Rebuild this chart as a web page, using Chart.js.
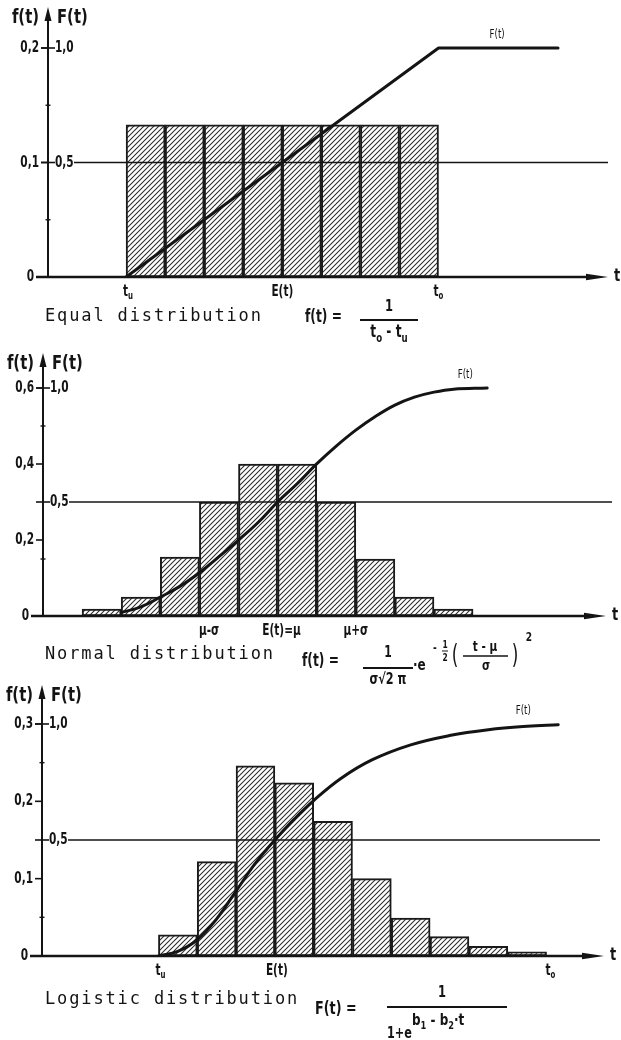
<!DOCTYPE html>
<html><head><meta charset="utf-8">
<script src="https://cdn.jsdelivr.net/npm/chart.js@4.4.1/dist/chart.umd.min.js"></script>
<style>
html,body{margin:0;padding:0;background:#fff;width:621px;height:1040px;overflow:hidden;}
canvas{position:absolute;left:0;}
</style></head><body>
<canvas id="c1" width="621" height="345" style="top:0px"></canvas>
<canvas id="c2" width="621" height="350" style="top:340px"></canvas>
<canvas id="c3" width="621" height="370" style="top:670px"></canvas>
<script>
// ================= DATA =================
// Equal (uniform) distribution
const equalBinCenters = [0.5, 1.5, 2.5, 3.5, 4.5, 5.5, 6.5, 7.5];
const equalDensity    = [0.133, 0.133, 0.133, 0.133, 0.133, 0.133, 0.133, 0.133];
const equalCdfT       = [0, 8, 11.06];
const equalCdfF       = [0, 1.0, 1.0];
const equalFTicks     = [0.1, 0.2];
const equalFTickLabels = ['0,1', '0,2'];
const equalMinorTicks = [0.05, 0.15];
const equalXLabelT    = [0.05, 4.0, 8.0];
const equalXLabels    = [['t', 'u'], ['E(t)', ''], ['t', 'o']];

// Normal distribution
const normalBinCenters = [0.5, 1.5, 2.5, 3.5, 4.5, 5.5, 6.5, 7.5, 8.5, 9.5];
const normalDensity    = [0.018, 0.05, 0.155, 0.30, 0.40, 0.40, 0.30, 0.15, 0.05, 0.018];
const normalCdfT       = [1.0, 1.5, 2.0, 2.5, 3.0, 3.5, 4.0, 4.5, 5.0, 5.5, 6.0, 6.5, 7.0, 7.5, 8.0, 8.5, 9.0, 9.5, 10.36];
const normalCdfF       = [0.015, 0.04, 0.083, 0.13, 0.19, 0.26, 0.333, 0.41, 0.50, 0.58, 0.667, 0.745, 0.815, 0.875, 0.925, 0.96, 0.982, 0.995, 1.0];
const normalFTicks     = [0.2, 0.4, 0.6];
const normalFTickLabels = ['0,2', '0,4', '0,6'];
const normalMinorTicks = [0.15, 0.5];
const normalXLabelT    = [3.25, 5.1, 7.0];
const normalXLabels    = [['μ-σ', ''], ['E(t)=μ', ''], ['μ+σ', '']];

// Logistic distribution
const logisticBinCenters = [0.5, 1.5, 2.5, 3.5, 4.5, 5.5, 6.5, 7.5, 8.5, 9.5];
const logisticDensity    = [0.0275, 0.122, 0.246, 0.224, 0.174, 0.10, 0.049, 0.025, 0.0125, 0.0055];
const logisticCdfT       = [0, 0.5, 1.0, 1.5, 2.0, 2.5, 3.0, 3.5, 4.0, 4.7, 5.5, 6.5, 7.5, 8.5, 9.5, 10.3];
const logisticCdfF       = [0, 0.02, 0.07, 0.16, 0.28, 0.40, 0.50, 0.59, 0.67, 0.765, 0.845, 0.91, 0.95, 0.975, 0.99, 0.997];
const logisticFTicks     = [0.1, 0.2, 0.3];
const logisticFTickLabels = ['0,1', '0,2', '0,3'];
const logisticMinorTicks = [0.05, 0.25];
const logisticXLabelT    = [0.05, 3.05, 10.1];
const logisticXLabels    = [['t', 'u'], ['E(t)', ''], ['t', 'o']];

// Cumulative F(t) tick labels (shared)
const cdfTicks = [0.5, 1.0];
const cdfTickLabels = ['0,5', '1,0'];

// ================= DRAWING HELPERS =================
const COND = '"DejaVu Sans", "Liberation Sans", sans-serif';
const MONO = '"DejaVu Sans Mono", "Liberation Mono", monospace';
const INK = '#141414';

function rich(ctx, segs, x, y, size, align, sx, weight) {
  weight = weight || 'bold';
  const fontFor = k => `${weight} ${k ? Math.round(size * 0.68) : size}px ${COND}`;
  let w = 0;
  const ws = segs.map(([t, k]) => { ctx.font = fontFor(k); const m = ctx.measureText(t).width; w += m; return m; });
  ctx.save();
  ctx.translate(x, y); ctx.scale(sx, 1);
  ctx.textBaseline = 'middle'; ctx.textAlign = 'left';
  let cx = align === 'center' ? -w / 2 : align === 'right' ? -w : 0;
  segs.forEach(([t, k], i) => {
    ctx.font = fontFor(k);
    const dy = k === 'sub' ? size * 0.32 : k === 'sup' ? -size * 0.42 : 0;
    ctx.fillText(t, cx, dy);
    cx += ws[i];
  });
  ctx.restore();
}
function txt(ctx, s, x, y, size, align, sx, weight) { rich(ctx, [[s, '']], x, y, size, align, sx, weight); }
function mono(ctx, s, x, y) {
  ctx.save(); ctx.font = `17px ${MONO}`; ctx.textBaseline = 'middle'; ctx.textAlign = 'left';
  for (let i = 0; i < s.length; i++) ctx.fillText(s[i], x + i * 12.1, y);
  ctx.restore();
}
function seg(ctx, x1, y1, x2, y2, w) { ctx.lineWidth = w; ctx.beginPath(); ctx.moveTo(x1, y1); ctx.lineTo(x2, y2); ctx.stroke(); }
function tri(ctx, pts) { ctx.beginPath(); ctx.moveTo(pts[0], pts[1]); ctx.lineTo(pts[2], pts[3]); ctx.lineTo(pts[4], pts[5]); ctx.closePath(); ctx.fill(); }

function makeHatch() {
  const c = document.createElement('canvas'); c.width = 5; c.height = 5;
  const g = c.getContext('2d');
  g.fillStyle = '#fff'; g.fillRect(0, 0, 5, 5);
  g.strokeStyle = '#2b2b2b'; g.lineWidth = 1.05;
  g.beginPath();
  g.moveTo(-1, 6); g.lineTo(6, -1);
  g.moveTo(-6, 6); g.lineTo(1, -1);
  g.moveTo(4, 6); g.lineTo(11, -1);
  g.stroke();
  return document.createElement('canvas').getContext('2d').createPattern(c, 'repeat');
}
const hatch = makeHatch();

// ================= PANEL SPECS =================
const specs = {
  c1: {
    bins: equalBinCenters, dens: equalDensity, cdfT: equalCdfT, cdfF: equalCdfF, smooth: false,
    fTicks: equalFTicks, fLabels: equalFTickLabels, minor: equalMinorTicks,
    xT: equalXLabelT, xL: equalXLabels, cdfLabelT: 9.5,
    pad: { left: 48, right: 13, top: 7, bottom: 68 },
    xMin: -2, xMax: 12.34, fMax: 0.2358, FMax: 1.179, halfEnd: 0,
    desc: 'Equal distribution', descY: 317,
    formula(ctx) {
      txt(ctx, 'f(t) =', 305, 318, 17, 'left', 0.72);
      seg(ctx, 360, 320, 418, 320, 2);
      txt(ctx, '1', 389, 307, 16, 'center', 0.72);
      rich(ctx, [['t', ''], ['o', 'sub'], [' - ', ''], ['t', ''], ['u', 'sub']], 389, 333, 17, 'center', 0.72);
    }
  },
  c2: {
    bins: normalBinCenters, dens: normalDensity, cdfT: normalCdfT, cdfF: normalCdfF, smooth: true,
    fTicks: normalFTicks, fLabels: normalFTickLabels, minor: normalMinorTicks,
    xT: normalXLabelT, xL: normalXLabels, cdfLabelT: 9.8,
    pad: { left: 43, right: 15, top: 13, bottom: 74 },
    xMin: -1, xMax: 13.4, fMax: 0.6921, FMax: 1.1535, halfEnd: 6,
    desc: 'Normal distribution', descY: 315,
    formula(ctx) {
      txt(ctx, 'f(t) =', 302, 322, 17, 'left', 0.72);
      seg(ctx, 363, 328, 413, 328, 2);
      txt(ctx, '1', 388, 313, 15, 'center', 0.72);
      txt(ctx, 'σ√2 π', 388, 340, 15, 'center', 0.75);
      txt(ctx, '·e', 413, 326, 16, 'left', 0.75);
      txt(ctx, '-', 433, 309, 12, 'left', 0.75);
      txt(ctx, '1', 445, 305, 10, 'center', 0.75);
      seg(ctx, 442, 311, 448, 311, 1);
      txt(ctx, '2', 445, 318, 10, 'center', 0.75);
      txt(ctx, '(', 455, 316, 26, 'center', 0.65, 'normal');
      txt(ctx, 't - μ', 485, 307, 14, 'center', 0.75);
      seg(ctx, 463, 316, 508, 316, 1.5);
      txt(ctx, 'σ', 486, 326, 14, 'center', 0.75);
      txt(ctx, ')', 515, 316, 26, 'center', 0.65, 'normal');
      txt(ctx, '2', 529, 298, 12, 'center', 0.75);
    }
  },
  c3: {
    bins: logisticBinCenters, dens: logisticDensity, cdfT: logisticCdfT, cdfF: logisticCdfF, smooth: true,
    fTicks: logisticFTicks, fLabels: logisticFTickLabels, minor: logisticMinorTicks,
    xT: logisticXLabelT, xL: logisticXLabels, cdfLabelT: 9.4,
    pad: { left: 42, right: 17, top: 15, bottom: 84 },
    xMin: -3, xMax: 11.48, fMax: 0.3504, FMax: 1.168, halfEnd: -4,
    desc: 'Logistic distribution', descY: 330,
    formula(ctx) {
      txt(ctx, 'F(t) =', 315, 340, 17, 'left', 0.75);
      seg(ctx, 387, 337, 507, 337, 2);
      txt(ctx, '1', 442, 323, 16, 'center', 0.72);
      txt(ctx, '1+e', 387, 364, 15, 'left', 0.75);
      rich(ctx, [['b', ''], ['1', 'sub'], [' - ', ''], ['b', ''], ['2', 'sub'], ['·t', '']], 412, 351, 16, 'left', 0.75);
    }
  }
};

// ================= DECORATION PLUGIN =================
const decor = {
  id: 'decor',
  afterDraw(chart) {
    const s = specs[chart.canvas.id];
    const ctx = chart.ctx, xs = chart.scales.x, yf = chart.scales.y, yF = chart.scales.yF, a = chart.chartArea;
    const ax = a.left, base = yf.getPixelForValue(0);
    ctx.save();
    ctx.fillStyle = INK; ctx.strokeStyle = INK; ctx.lineCap = 'butt';

    // horizontal F = 0.5 line
    const yH = yF.getPixelForValue(0.5);
    seg(ctx, ax + 26, yH, a.right + s.halfEnd, yH, 1.4);

    // y axis with arrow
    seg(ctx, ax, base + 1, ax, a.top + 10, 2);
    tri(ctx, [ax, a.top, ax - 3.5, a.top + 14, ax + 3.5, a.top + 14]);
    // x axis with arrow
    seg(ctx, ax - 12, base, a.right - 16, base, 2.3);
    tri(ctx, [a.right, base, a.right - 22, base - 3.2, a.right - 22, base + 3.2]);
    txt(ctx, 't', a.right + 9, base - 1, 18, 'center', 0.72);

    // f ticks (left)
    txt(ctx, '0', ax - 14, base, 16, 'right', 0.66);
    s.fTicks.forEach((v, i) => {
      const y = yf.getPixelForValue(v);
      seg(ctx, ax - 7, y, ax, y, 1.6);
      txt(ctx, s.fLabels[i], ax - 9, y, 16, 'right', 0.66);
    });
    // F ticks (right)
    cdfTicks.forEach((v, i) => {
      const y = yF.getPixelForValue(v);
      seg(ctx, ax - 7, y, ax + 7, y, 1.6);
      txt(ctx, cdfTickLabels[i], ax + 7, y, 16, 'left', 0.66);
    });
    // minor ticks
    s.minor.forEach(v => { const y = yf.getPixelForValue(v); seg(ctx, ax - 2.5, y, ax + 2.5, y, 1.4); });

    // x labels
    s.xT.forEach((t, i) => {
      const [m, sub] = s.xL[i];
      const segs = sub ? [[m, ''], [sub, 'sub']] : [[m, '']];
      rich(ctx, segs, xs.getPixelForValue(t), base + 15, 15, 'center', 0.7);
    });

    // title f(t) ▲ F(t)
    txt(ctx, 'f(t)', ax - 9, a.top + 11, 19, 'right', 0.78);
    txt(ctx, 'F(t)', ax + 9, a.top + 11, 19, 'left', 0.78);

    // F(t) curve label
    txt(ctx, 'F(t)', xs.getPixelForValue(s.cdfLabelT), yF.getPixelForValue(1.0) - 13, 12, 'center', 0.72, 'normal');

    // description + formula
    mono(ctx, s.desc, 45, s.descY);
    s.formula(ctx);
    ctx.restore();
  }
};

// ================= CHARTS =================
function build(id) {
  const s = specs[id];
  return new Chart(document.getElementById(id).getContext('2d'), {
    type: 'bar',
    data: {
      datasets: [
        {
          type: 'line', order: 0, yAxisID: 'yF', xAxisID: 'x',
          data: s.cdfT.map((t, i) => ({ x: t, y: s.cdfF[i] })),
          borderColor: INK, borderWidth: 3, pointRadius: 0, fill: false,
          tension: s.smooth ? 0.4 : 0,
          borderCapStyle: 'round', borderJoinStyle: 'round'
        },
        {
          type: 'bar', order: 1, yAxisID: 'y', xAxisID: 'x',
          data: s.bins.map((c, i) => ({ x: c, y: s.dens[i] })),
          backgroundColor: hatch, borderColor: '#1a1a1a', borderWidth: 2, borderSkipped: false,
          barPercentage: 1, categoryPercentage: 1
        }
      ]
    },
    options: {
      responsive: false, animation: false, devicePixelRatio: 1,
      layout: { padding: s.pad },
      plugins: { legend: { display: false }, tooltip: { enabled: false } },
      scales: {
        x: { type: 'linear', min: s.xMin, max: s.xMax, offset: false, display: false, ticks: { stepSize: 1, includeBounds: false } },
        y: { type: 'linear', min: 0, max: s.fMax, display: false },
        yF: { type: 'linear', min: 0, max: s.FMax, display: false, position: 'right' }
      }
    },
    plugins: [decor]
  });
}
['c1', 'c2', 'c3'].forEach(build);
</script>
</body></html>
